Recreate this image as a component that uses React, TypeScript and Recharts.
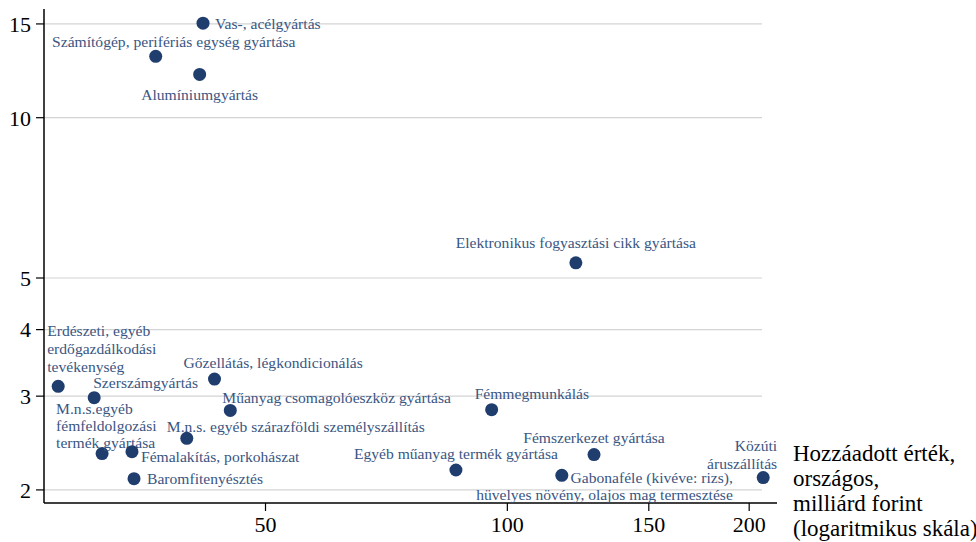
import React from "react"
import { ScatterChart, Scatter, XAxis, YAxis, ReferenceLine } from "recharts"

// sectors, labels can hold "\n" for line breaks
const sectors = [
	"Vas-, acélgyártás",
	"Számítógép, perifériás egység gyártása",
	"Alumíniumgyártás",
	"Elektronikus fogyasztási cikk gyártása",
	"Erdészeti, egyéb\nerdőgazdálkodási\ntevékenység",
	"Szerszámgyártás",
	"Gőzellátás, légkondicionálás",
	"Műanyag csomagolóeszköz gyártása",
	"M.n.s. egyéb szárazföldi személyszállítás",
	"M.n.s.egyéb\nfémfeldolgozási\ntermék gyártása",
	"Fémalakítás, porkohászat",
	"Baromfitenyésztés",
	"Fémmegmunkálás",
	"Fémszerkezet gyártása",
	"Egyéb műanyag termék gyártása",
	"Gabonaféle (kivéve: rizs),\nhüvelyes növény, olajos mag termesztése",
	"Közúti\náruszállítás",
]
const valueAdded = [41.8, 36.5, 41.4, 121.7, 27.6, 30.6, 43.2, 45.2, 39.9, 31.3, 34.1, 34.3, 95.6, 128.2, 86.3, 116.9, 208.2]
const yValues = [15.05, 13.04, 12.06, 5.34, 3.13, 2.98, 3.23, 2.82, 2.5, 2.34, 2.36, 2.1, 2.83, 2.33, 2.18, 2.13, 2.11]

const xTicks = [50, 100, 150, 200]
const yTicks = [2, 3, 4, 5, 10, 15]

const X_DOMAIN: [number, number] = [26.5, 216.6]
const Y_DOMAIN: [number, number] = [1.89, 16]
const GRID_END = 207.5

const POINT = "#1f3d6d"
const LABEL = "#3a5682"
const FONT = "Liberation Serif, Times New Roman, serif"

// label placement: anchor, offset of first line from the point, line height
const labelLayout: Record<number, { anchor: "start" | "middle" | "end"; dx: number; dy: number; lh?: number }> = {
	0: { anchor: "start", dx: 12, dy: 0 },
	1: { anchor: "middle", dx: 18, dy: -15 },
	2: { anchor: "middle", dx: 0, dy: 20 },
	3: { anchor: "middle", dx: 0, dy: -21 },
	4: { anchor: "start", dx: -11, dy: -56, lh: 18 },
	5: { anchor: "start", dx: -1, dy: -16 },
	6: { anchor: "start", dx: -31, dy: -17 },
	7: { anchor: "start", dx: -8, dy: -13 },
	8: { anchor: "start", dx: -20, dy: -12 },
	9: { anchor: "start", dx: -46, dy: -46, lh: 17 },
	10: { anchor: "start", dx: 9, dy: 4 },
	11: { anchor: "start", dx: 13, dy: -1 },
	12: { anchor: "start", dx: -17, dy: -17 },
	13: { anchor: "middle", dx: 0, dy: -18 },
	14: { anchor: "middle", dx: 0, dy: -17 },
	15: { anchor: "end", dx: 171, dy: 2, lh: 16.5 },
	16: { anchor: "end", dx: 14, dy: -33, lh: 18 },
}

const data = sectors.map((name, i) => ({ name, x: valueAdded[i], y: yValues[i], idx: i }))

const Dot = (props: any) => {
	const { cx, cy, payload } = props
	const lay = labelLayout[payload.idx]
	const lines = String(payload.name).split("\n")
	return (
		<g>
			<circle cx={cx} cy={cy} r={6.5} fill={POINT} />
			<text
				x={cx + lay.dx}
				y={cy + lay.dy}
				textAnchor={lay.anchor}
				fill={LABEL}
				style={{ fontSize: 15.6, fontFamily: FONT }}
				dominantBaseline="central"
			>
				{lines.map((l, k) => (
					<tspan key={k} x={cx + lay.dx} dy={k === 0 ? 0 : lay.lh ?? 17}>
						{l}
					</tspan>
				))}
			</text>
		</g>
	)
}

export default function App() {
	return (
		<div style={{ position: "absolute", left: 0, top: 0, width: 976, height: 542, background: "#fff", fontFamily: FONT }}>
			<ScatterChart width={976} height={542} margin={{ top: 9, right: 199, left: 0, bottom: 0 }}>
				{yTicks.map((t) => (
					<ReferenceLine
						key={t}
						segment={[
							{ x: X_DOMAIN[0], y: t },
							{ x: GRID_END, y: t },
						]}
						stroke="#d4d4d4"
						strokeWidth={1.2}
					/>
				))}
				<XAxis
					type="number"
					dataKey="x"
					scale="log"
					domain={X_DOMAIN}
					allowDataOverflow
					ticks={xTicks}
					height={39}
					tickSize={8}
					tickMargin={5}
					axisLine={{ stroke: "#000", strokeWidth: 1.5 }}
					tickLine={{ stroke: "#000", strokeWidth: 1.2 }}
					tick={{ fill: "#000", fontSize: 22, fontFamily: FONT }}
				/>
				<YAxis
					type="number"
					dataKey="y"
					scale="log"
					domain={Y_DOMAIN}
					allowDataOverflow
					ticks={yTicks}
					width={44}
					tickSize={8}
					tickMargin={5}
					axisLine={{ stroke: "#000", strokeWidth: 1.5 }}
					tickLine={{ stroke: "#000", strokeWidth: 1.2 }}
					tick={{ fill: "#000", fontSize: 22, fontFamily: FONT }}
				/>
				<Scatter data={data} shape={Dot} isAnimationActive={false} />
			</ScatterChart>
			<div
				style={{
					position: "absolute",
					left: 793,
					top: 441,
					fontSize: 23,
					lineHeight: "25px",
					color: "#000",
					whiteSpace: "nowrap",
				}}
			>
				Hozzáadott érték,
				<br />
				országos,
				<br />
				milliárd forint
				<br />
				(logaritmikus skála)
			</div>
		</div>
	)
}
